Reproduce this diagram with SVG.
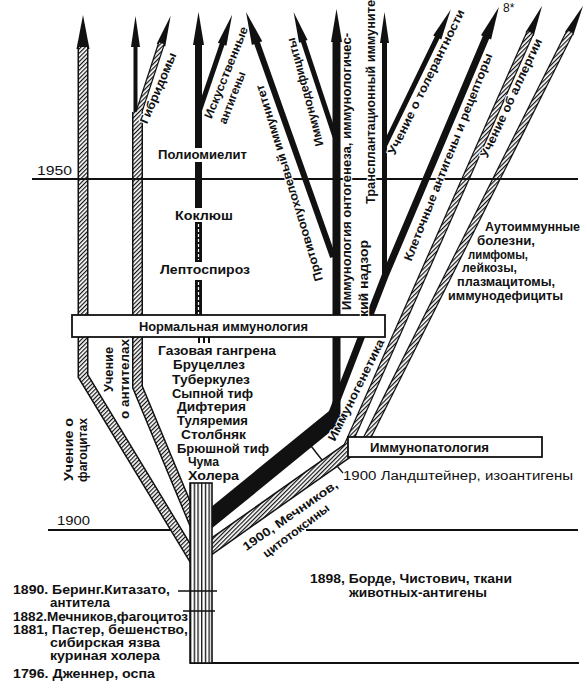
<svg xmlns="http://www.w3.org/2000/svg" width="587" height="693" viewBox="0 0 587 693">
<style>
.t{font-family:"Liberation Sans","DejaVu Sans",Arial,sans-serif;font-weight:bold;fill:#111;font-size:12px}
.n{font-weight:normal}
.h{stroke:#fff;stroke-width:2.2;paint-order:stroke;stroke-linejoin:round}
.ink{fill:none;stroke:#111;stroke-linejoin:miter}
.ht{fill:none;stroke:url(#dh);stroke-linejoin:miter}
.blk{fill:none;stroke:#111}
.rule{stroke:#111;stroke-width:2;fill:none}
.box{fill:#fff;stroke:#111;stroke-width:1.8}
</style>
<defs>
<pattern id="dh" width="3" height="3" patternUnits="userSpaceOnUse" patternTransform="rotate(45)"><rect width="3" height="3" fill="#fff"/><rect width="1.2" height="3" fill="#111"/></pattern>
<pattern id="vh" x="190" width="3.7" height="4" patternUnits="userSpaceOnUse"><rect width="3.7" height="4" fill="#fff"/><rect width="1.3" height="4" fill="#111"/></pattern>
<marker id="ab" markerUnits="userSpaceOnUse" markerWidth="36" markerHeight="16" refX="2" refY="8" orient="auto" overflow="visible"><path d="M0,1.5 L34,8 L0,14.5 Z" fill="#111"/></marker>
<marker id="ah" markerUnits="userSpaceOnUse" markerWidth="36" markerHeight="14" refX="2" refY="7" orient="auto" overflow="visible"><path d="M0,1.5 L33,7 L0,12.5 Z" fill="#111"/></marker>
<marker id="as" markerUnits="userSpaceOnUse" markerWidth="34" markerHeight="14" refX="2" refY="7" orient="auto" overflow="visible"><path d="M0,2.5 L31,7 L0,11.5 Z" fill="#111"/></marker>
<path id="bA" d="M198,566 L83,376 L83,47"/>
<path id="bB" d="M201,540 L137.5,387 L137.5,112"/>
<path id="bG" d="M137,118 L161.6,43.2"/>
<path id="bH1" d="M346,449 L530.4,32.3"/>
<path id="bH2" d="M360,452 L570.1,31.7"/>
<path id="bL" d="M350,449 L205,551"/>
</defs>
<rect width="587" height="693" fill="#fff"/>

<g id="timeline">
<path class="rule" d="M48,530 H172 M306,530 H578"/>
<path class="rule" d="M190,663 H579"/>
</g>

<g id="connectors">
<path class="blk" stroke-width="4" d="M135.5,113 L135.5,45" marker-end="url(#as)"/>
<path class="blk" stroke-width="7" d="M198.5,148 L198.5,43" marker-end="url(#ah)"/>
<path class="blk" stroke-width="7" d="M198.5,162 V208 M198.5,222 V262 M198.5,280 V316"/>
<path fill="none" stroke="#fff" stroke-width="1.2" stroke-dasharray="3 2" d="M198.5,224 V260 M198.5,282 V314"/>
<path class="blk" stroke-width="2" d="M199,337 V343 M204,337 V343 M209,337 V343"/>
<path class="blk" stroke-width="5" d="M199,112 L222.8,42.3" marker-end="url(#as)"/>
<path class="blk" stroke-width="6" d="M333,257 L256.4,41.2" marker-end="url(#ah)"/>
<path class="blk" stroke-width="5" d="M335,137 L302.7,39.5" marker-end="url(#as)"/>
<path class="blk" stroke-width="8" d="M336.5,428 L336.5,40" marker-end="url(#ah)"/>
<path class="blk" stroke-width="5" d="M384.5,280 L384.5,41" marker-end="url(#as)"/>
<path class="blk" stroke-width="7" stroke-linejoin="round" d="M332,413 L385,276 L486.8,35.5" marker-end="url(#ah)"/>
<path class="blk" stroke-width="5" d="M384,147 L438.1,35.7" marker-end="url(#as)"/>
<path class="blk" stroke-width="17" d="M340,413 L205,523"/>
<path class="blk" stroke-width="1.4" d="M311,446 L322,460"/>
<path class="blk" stroke-width="1.2" d="M337,466 L343,473"/>
<use href="#bA" class="ink" stroke-width="11" marker-end="url(#ab)"/>
<use href="#bB" class="ink" stroke-width="11"/>
<use href="#bG" class="ink" stroke-width="7" marker-end="url(#as)"/>
<use href="#bH1" class="ink" stroke-width="8" marker-end="url(#as)"/>
<use href="#bH2" class="ink" stroke-width="8" marker-end="url(#as)"/>
<use href="#bL" class="ink" stroke-width="15"/>
<use href="#bA" class="ht" stroke-width="8"/>
<use href="#bB" class="ht" stroke-width="8"/>
<use href="#bG" class="ht" stroke-width="4.5"/>
<use href="#bH1" class="ht" stroke-width="5.5"/>
<use href="#bH2" class="ht" stroke-width="5.5"/>
<use href="#bL" class="ht" stroke-width="12"/>
</g>

<g id="trunk">
<rect x="190" y="483" width="22" height="180" fill="url(#vh)" stroke="#111" stroke-width="1.6"/>
<path class="blk" stroke-width="1.6" d="M178,591 H217 M183,611 H215"/>
</g>

<g id="line-1950"><path class="rule" d="M32,179 H578"/></g>

<g id="labels-years">
<text class="t n" x="37" y="175" font-size="16" textLength="35" lengthAdjust="spacingAndGlyphs">1950</text>
<text class="t n" x="57" y="525" font-size="16" textLength="33" lengthAdjust="spacingAndGlyphs">1900</text>
</g>

<g id="node-normal">
<rect class="box" x="72" y="315" width="313" height="22"/>
<text class="t" x="139" y="330.5" font-size="13" textLength="169" lengthAdjust="spacingAndGlyphs">Нормальная иммунология</text>
</g>

<g id="node-pathology">
<rect class="box" x="348" y="437" width="194" height="20"/>
<text class="t" x="370" y="451.5" textLength="119" lengthAdjust="spacingAndGlyphs">Иммунопатология</text>
</g>

<g id="node-diseases">
<text class="t" x="158" y="158.5" textLength="89" lengthAdjust="spacingAndGlyphs">Полиомиелит</text>
<text class="t" x="175" y="220" textLength="58" lengthAdjust="spacingAndGlyphs">Коклюш</text>
<text class="t" x="160" y="274" textLength="90" lengthAdjust="spacingAndGlyphs">Лептоспироз</text>
<text class="t" x="158" y="355" textLength="118" lengthAdjust="spacingAndGlyphs">Газовая гангрена</text>
<text class="t" x="173" y="368.5" textLength="72" lengthAdjust="spacingAndGlyphs">Бруцеллез</text>
<text class="t" x="172" y="384" textLength="78" lengthAdjust="spacingAndGlyphs">Туберкулез</text>
<text class="t" x="172" y="397.5" textLength="81" lengthAdjust="spacingAndGlyphs">Сыпной тиф</text>
<text class="t" x="177" y="410.5" textLength="69" lengthAdjust="spacingAndGlyphs">Дифтерия</text>
<text class="t" x="177" y="425" textLength="71" lengthAdjust="spacingAndGlyphs">Туляремия</text>
<text class="t" x="181" y="438.5" textLength="65" lengthAdjust="spacingAndGlyphs">Столбняк</text>
<text class="t" x="177" y="452.5" textLength="92" lengthAdjust="spacingAndGlyphs">Брюшной тиф</text>
<text class="t" x="188" y="466" textLength="31" lengthAdjust="spacingAndGlyphs">Чума</text>
<text class="t" x="188" y="480" textLength="51" lengthAdjust="spacingAndGlyphs">Холера</text>
</g>

<g id="node-autoimmune">
<text class="t" x="485" y="231" textLength="95" lengthAdjust="spacingAndGlyphs">Аутоиммунные</text>
<text class="t" x="477" y="245" textLength="58" lengthAdjust="spacingAndGlyphs">болезни,</text>
<text class="t" x="468" y="258.5" textLength="60" lengthAdjust="spacingAndGlyphs">лимфомы,</text>
<text class="t" x="462" y="272" textLength="55" lengthAdjust="spacingAndGlyphs">лейкозы,</text>
<text class="t" x="457" y="285.5" textLength="98" lengthAdjust="spacingAndGlyphs">плазмацитомы,</text>
<text class="t" x="448" y="299.5" textLength="115" lengthAdjust="spacingAndGlyphs">иммунодефициты</text>
</g>

<g id="node-history">
<text class="t n" x="343" y="480" font-size="14" textLength="230" lengthAdjust="spacingAndGlyphs">1900 Ландштейнер, изоантигены</text>
<text class="t" x="310" y="583" font-size="13" textLength="202" lengthAdjust="spacingAndGlyphs">1898, Борде, Чистович, ткани</text>
<text class="t" x="349" y="596.5" textLength="138" lengthAdjust="spacingAndGlyphs">животных-антигены</text>
<text class="t" x="13" y="594" textLength="157" lengthAdjust="spacingAndGlyphs">1890. Беринг.Китазато,</text>
<text class="t" x="50" y="607" font-size="11.5" textLength="60" lengthAdjust="spacingAndGlyphs">антитела</text>
<text class="t" x="13" y="620.5" textLength="175" lengthAdjust="spacingAndGlyphs">1882.Мечников,фагоцитоз</text>
<text class="t" x="13" y="634" textLength="175" lengthAdjust="spacingAndGlyphs">1881, Пастер, бешенство,</text>
<text class="t" x="50" y="647" font-size="11.5" textLength="110" lengthAdjust="spacingAndGlyphs">сибирская язва</text>
<text class="t" x="50" y="660" font-size="11.5" textLength="110" lengthAdjust="spacingAndGlyphs">куриная холера</text>
<text class="t" x="13" y="677.5" textLength="142" lengthAdjust="spacingAndGlyphs">1796. Дженнер, оспа</text>
<text class="t n" x="503" y="12" font-size="11">8*</text>
</g>

<g id="node-branch-labels">
<text class="t h" transform="translate(158,88) rotate(-67)" text-anchor="middle" dy=".35em" textLength="76" lengthAdjust="spacingAndGlyphs">Гибридомы</text>
<text class="t h" transform="translate(226,72.5) rotate(-68)" text-anchor="middle" dy=".35em" textLength="98" lengthAdjust="spacingAndGlyphs">Искусственные</text>
<text class="t h" transform="translate(232,97.5) rotate(-69)" text-anchor="middle" dy=".35em" textLength="55" lengthAdjust="spacingAndGlyphs">антигены</text>
<text class="t h" transform="translate(289,183) rotate(-107)" text-anchor="middle" dy=".35em" textLength="205" lengthAdjust="spacingAndGlyphs">Противоопухолевый иммунитет</text>
<text class="t h" transform="translate(305,92) rotate(-105)" text-anchor="middle" dy=".35em" textLength="112" lengthAdjust="spacingAndGlyphs">Иммунодефициты</text>
<text class="t h" transform="translate(347,171.5) rotate(-90)" text-anchor="middle" dy=".35em" textLength="277" lengthAdjust="spacingAndGlyphs">Иммунология онтогенеза, иммунологичес-</text>
<text class="t h" transform="translate(364,278.5) rotate(-90)" text-anchor="middle" dy=".35em" textLength="77" lengthAdjust="spacingAndGlyphs">кий надзор</text>
<text class="t h" transform="translate(371,99) rotate(-90)" text-anchor="middle" dy=".35em" textLength="210" lengthAdjust="spacingAndGlyphs">Трансплантационный иммунитет</text>
<text class="t h" transform="translate(426,82) rotate(-64)" text-anchor="middle" dy=".35em" textLength="160" lengthAdjust="spacingAndGlyphs">Учение о толерантности</text>
<text class="t h" transform="translate(448,157) rotate(-68.5)" text-anchor="middle" dy=".35em" textLength="222" lengthAdjust="spacingAndGlyphs">Клеточные антигены и рецепторы</text>
<text class="t h" transform="translate(511,98) rotate(-65)" text-anchor="middle" dy=".35em" textLength="130" lengthAdjust="spacingAndGlyphs">Учение об аллергии</text>
<text class="t h" transform="translate(356,390) rotate(-63.5)" text-anchor="middle" dy=".35em" textLength="112" lengthAdjust="spacingAndGlyphs">Иммуногенетика</text>
<text class="t h" transform="translate(290,515.5) rotate(-35)" text-anchor="middle" dy=".35em" font-size="13" textLength="113" lengthAdjust="spacingAndGlyphs">1900, Мечников,</text>
<text class="t h" transform="translate(296,530.5) rotate(-37)" text-anchor="middle" dy=".35em" textLength="80" lengthAdjust="spacingAndGlyphs">цитотоксины</text>
<text class="t h" transform="translate(109,369.5) rotate(-90)" text-anchor="middle" dy=".35em" textLength="45" lengthAdjust="spacingAndGlyphs">Учение</text>
<text class="t h" transform="translate(125,379) rotate(-90)" text-anchor="middle" dy=".35em" textLength="80" lengthAdjust="spacingAndGlyphs">о антителах</text>
<text class="t h" transform="translate(68.5,449.5) rotate(-90)" text-anchor="middle" dy=".35em" textLength="63" lengthAdjust="spacingAndGlyphs">Учение о</text>
<text class="t h" transform="translate(83,450) rotate(-90)" text-anchor="middle" dy=".35em" textLength="64" lengthAdjust="spacingAndGlyphs">фагоцитах</text>
</g>
</svg>
